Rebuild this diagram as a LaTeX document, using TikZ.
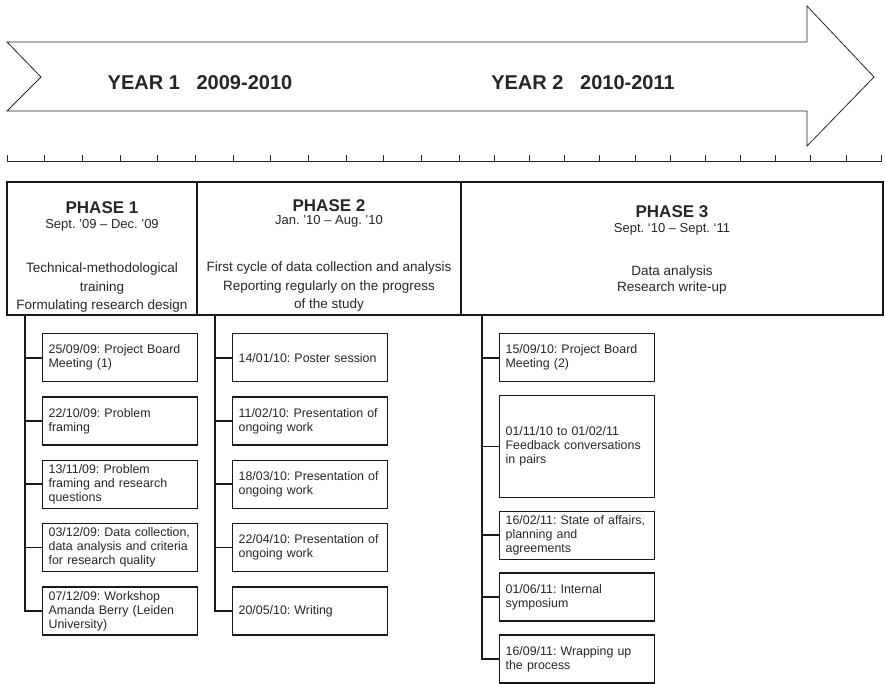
\documentclass[tikz,border=0pt]{standalone}
\usepackage{fontspec}
\setmainfont{Liberation Sans}
\usetikzlibrary{positioning}
\tikzset{
  x=1pt, y=-1pt,
  node distance=14pt,
  every node/.style={text=black!85},
  banner/.style={draw=black!85, line width=0.8pt},
  scale line/.style={draw=black!85, line width=0.9pt},
  tick/.style={draw=black!85, line width=0.7pt},
  yeartext/.style={font=\fontsize{20}{24}\bfseries\selectfont},
  phase/.style={draw=black!90, line width=1.4pt, minimum height=133pt, inner sep=0pt},
  phasetext/.style={align=center, inner sep=0pt, font=\fontsize{13.5}{18.3}\selectfont\frenchspacing},
  event/.style={draw=black!90, line width=1.3pt, minimum height=48pt, text width=143pt,
    inner xsep=6pt, inner ysep=0pt, align=left,
    font={\fontsize{12.4}{14}\selectfont\frenchspacing\hyphenpenalty=10000}},
  stem/.style={draw=black!90, line width=1.8pt},
}
\newcommand{\phasetitle}[1]{{\fontsize{17}{20}\bfseries\selectfont #1}}
\newcommand{\phasedate}[1]{{\fontsize{13}{18}\selectfont #1}}

\begin{document}
\begin{tikzpicture}
  \useasboundingbox (0,0) rectangle (885,683);

  \draw[banner] (7,42) -- (807,42) -- (807,6) -- (874,77) -- (807,146)
                -- (807,111) -- (7,111) -- (41,77) -- cycle;
  \node[yeartext] (yr1) at (200,83) {YEAR 1~~~2009-2010};
  \node[yeartext] (yr2) at (583,83) {YEAR 2~~~2010-2011};

  \draw[scale line] (7,161) -- (881,161);
  \foreach \i in {0,...,12} \draw[tick] (7+37.67*\i,155) -- ++(0,7);
  \foreach \i in {1,...,12} \draw[tick] (459+35.17*\i,155) -- ++(0,7);

  \node[phase, minimum width=190pt] (ph1) at (102,248.5) {};
  \node[phase, minimum width=264pt] (ph2) at (329,248.5) {};
  \node[phase, minimum width=422pt] (ph3) at (672,248.5) {};

  \node[phasetext, below=20.5pt of ph1.north] (ph1txt) {\phasetitle{PHASE 1}\\[-4pt]
    \phasedate{Sept. ’09 – Dec. ’09}\\[26.5pt]
    Technical-methodological\\training\\Formulating research design};
  \node[phasetext, below=18pt of ph2.north] (ph2txt) {\phasetitle{PHASE 2}\\[-5pt]
    \phasedate{Jan. ’10 – Aug. ’10}\\[29pt]
    First cycle of data collection and analysis\\Reporting regularly on the progress\\of the study};
  \node[phasetext, below=24.5pt of ph3.north] (ph3txt) {\phasetitle{PHASE 3}\\[-3.6pt]
    \phasedate{Sept. ‘10 – Sept. ‘11}\\[24.7pt]
    Data analysis\\[-2.3pt]Research write-up};

  \node[event, anchor=north west] (ev1a) at (42,333) {25/09/09: Project Board\\Meeting (1)};
  \node[event, below=of ev1a] (ev1b) {22/10/09: Problem\\framing};
  \node[event, below=of ev1b] (ev1c) {13/11/09: Problem\\framing and research\\questions};
  \node[event, below=of ev1c] (ev1d) {03/12/09: Data collection,\\data analysis and criteria\\for research quality};
  \node[event, below=of ev1d] (ev1e) {07/12/09: Workshop\\Amanda Berry (Leiden\\University)};

  \node[event, anchor=north west] (ev2a) at (232,333) {14/01/10: Poster session};
  \node[event, below=of ev2a] (ev2b) {11/02/10: Presentation of\\ongoing work};
  \node[event, below=of ev2b] (ev2c) {18/03/10: Presentation of\\ongoing work};
  \node[event, below=of ev2c] (ev2d) {22/04/10: Presentation of\\ongoing work};
  \node[event, below=of ev2d] (ev2e) {20/05/10: Writing};

  \node[event, anchor=north west] (ev3a) at (499,333) {15/09/10: Project Board\\Meeting (2)};
  \node[event, below=12.5pt of ev3a, minimum height=102pt] (ev3b) {01/11/10 to 01/02/11\\Feedback conversations\\in pairs};
  \node[event, below=12.5pt of ev3b] (ev3c) {16/02/11: State of affairs,\\planning and\\agreements};
  \node[event, below=12.5pt of ev3c] (ev3d) {01/06/11: Internal\\symposium};
  \node[event, below=12.5pt of ev3d] (ev3e) {16/09/11: Wrapping up\\the process};

  \foreach \e in {a,...,e} {
    \draw[stem] ([xshift=19pt]ph1.south west) |- (ev1\e.west);
    \draw[stem] ([xshift=19pt]ph2.south west) |- (ev2\e.west);
    \draw[stem] ([xshift=22pt]ph3.south west) |- (ev3\e.west);
  }
\end{tikzpicture}
\end{document}
